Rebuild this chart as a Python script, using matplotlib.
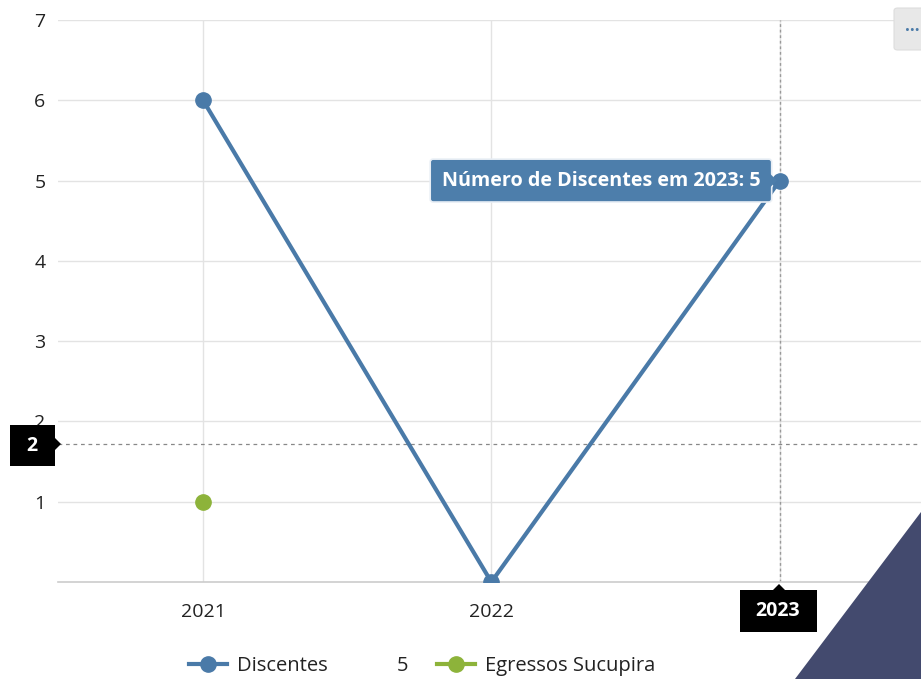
import matplotlib
matplotlib.use("Agg")
import matplotlib.pyplot as plt
from matplotlib.patches import Polygon, FancyBboxPatch, Rectangle
import numpy as np

plt.rcParams['font.family'] = ['Open Sans', 'DejaVu Sans']

categories = ["2021", "2022", "2023"]
discentes = [6, 0, 5]
egressos = [1, None, None]
y_ticks = [1, 2, 3, 4, 5, 6, 7]
tooltip_text = "Número de Discentes em 2023: 5"
crosshair_y_label = "2"
crosshair_x_label = "2023"
crosshair_y_value = 1.72
legend_extra = "5"

blue = "#4a7aa8"
green = "#8db33a"
W, H = 921, 679

fig = plt.figure(figsize=(W / 100, H / 100), dpi=100)
ax = fig.add_axes([58 / W, (H - 582) / H, (W - 58) / W + 0.01, 562 / H])

x = np.arange(len(categories))
ax.set_xlim(-0.503, 2.49 + 0.01 * W / 288)
ax.set_ylim(0, 7)

ax.set_xticks(x)
# the 2023 tick label is hidden behind the crosshair label in the reference
ax.set_xticklabels([c if c != crosshair_x_label else "" for c in categories])
ax.set_yticks(y_ticks)
ax.set_yticklabels([str(v) for v in y_ticks])
ax.tick_params(axis='both', length=0, labelsize=14, colors="#222222")
for t in ax.get_xticklabels() + ax.get_yticklabels():
    t.set_fontweight(500)
ax.tick_params(axis='y', pad=9)
ax.tick_params(axis='x', pad=15)
ax.grid(True, color="#e3e3e3", linewidth=1.0)
ax.set_axisbelow(True)
for s in ["top", "right", "left"]:
    ax.spines[s].set_visible(False)
ax.spines["bottom"].set_color("#cccccc")
ax.spines["bottom"].set_linewidth(1.2)

# crosshairs
ax.axvline(x[2], color="#999999", linestyle=(0, (2, 2)), linewidth=1.0, zorder=1.5)
ax.axhline(crosshair_y_value, color="#888888", linestyle=(0, (3, 3)), linewidth=0.9, zorder=1.5)

ax.plot(x, discentes, color=blue, linewidth=3, marker='o', markersize=11,
        label="Discentes", zorder=3, clip_on=True)
eg = np.array([np.nan if v is None else v for v in egressos], dtype=float)
ax.plot(x, eg, color=green, linewidth=3, marker='o', markersize=11,
        label="Egressos Sucupira", zorder=3)

# tooltip
ax.annotate(tooltip_text, xy=(x[2], discentes[2]), xytext=(-14, 0),
            textcoords='offset points', ha='right', va='center',
            fontsize=14.2, fontweight='bold', color='white',
            bbox=dict(boxstyle="round,pad=0.58,rounding_size=0.15",
                      fc="#4d7eab", ec="#e8eef5", lw=1.2),
            zorder=6)
ax.annotate("", xy=(x[2], discentes[2]), xytext=(-8, 0), textcoords='offset points',
            arrowprops=dict(arrowstyle="-|>,head_width=0.5,head_length=0.5",
                            fc="#4d7eab", ec="#4d7eab", lw=0), zorder=6)


def fx(px):
    return px / W


def fy(py):
    return 1 - py / H


# crosshair labels
fig.patches.append(Rectangle((fx(10), fy(466)), 45 / W, 41 / H, transform=fig.transFigure,
                             fc="black", ec="none", zorder=10))
fig.patches.append(Polygon([(fx(55), fy(438)), (fx(61), fy(444)), (fx(55), fy(450))],
                           closed=True, transform=fig.transFigure, fc="black", ec="none", zorder=10))
fig.text(fx(32), fy(446), crosshair_y_label, color="white", fontsize=14, fontweight='bold',
         ha='center', va='center', zorder=11)

fig.patches.append(Rectangle((fx(740), fy(632)), 77 / W, 42 / H, transform=fig.transFigure,
                             fc="black", ec="none", zorder=10))
fig.patches.append(Polygon([(fx(773), fy(590)), (fx(779), fy(584)), (fx(785), fy(590))],
                           closed=True, transform=fig.transFigure, fc="black", ec="none", zorder=10))
fig.text(fx(778), fy(611), crosshair_x_label, color="white", fontsize=14, fontweight='bold',
         ha='center', va='center', zorder=11)

# context menu button
fig.patches.append(FancyBboxPatch((fx(894), fy(50)), 40 / W, 42 / H, transform=fig.transFigure,
                                  boxstyle="round,pad=0,rounding_size=0.004",
                                  fc="#e8e8e8", ec="#dddddd", lw=0.8, zorder=10))
fig.text(fx(912), fy(31), "···", color="#4a7aa8", fontsize=12, fontweight='bold',
         ha='center', va='center', zorder=11)

# legend
leg = fig.legend(handles=list(ax.get_lines()[2:4]),
                 loc='center left', bbox_to_anchor=(fx(189), fy(666)), ncol=2, frameon=False,
                 fontsize=14.5, handlelength=1.9, handletextpad=0.5, columnspacing=5.4,
                 borderpad=0, borderaxespad=0)
for h in leg.legend_handles:
    h.set_markersize(11)
    h.set_linewidth(3)
for t in leg.get_texts():
    t.set_color("#222222")
    t.set_fontweight(500)
fig.text(fx(403), fy(666), legend_extra, fontsize=14.5, fontweight=500, color="#222222",
         ha='center', va='center')

# decorative dark corner shape
fig.patches.append(Polygon([(fx(921), fy(512)), (fx(921), fy(679)), (fx(795), fy(679))],
                           closed=True, transform=fig.transFigure, fc="#434a6e", ec="none", zorder=20))

fig.savefig("out.png", dpi=100)
